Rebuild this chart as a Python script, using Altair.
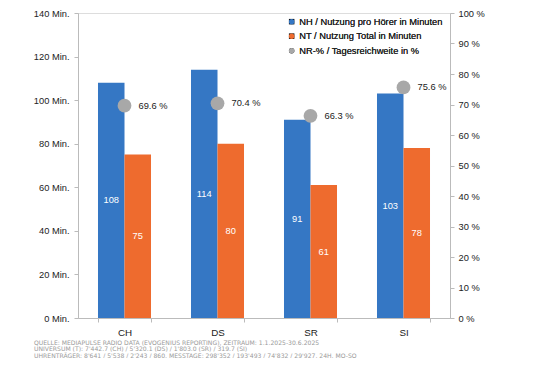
import altair as alt
import pandas as pd

categories = ["CH", "DS", "SR", "SI"]
nh_values = [108, 114, 91, 103]
nt_values = [75, 80, 61, 78]
nr_values = [69.6, 70.4, 66.3, 75.6]
series_names = ["NH / Nutzung pro Hörer in Minuten", "NT / Nutzung Total in Minuten", "NR-% / Tagesreichweite in %"]
series_colors = ["#3577C4", "#EE6B2E", "#A8A8A8"]
series_shapes = ["square", "square", "circle"]
left_ticks = [0, 20, 40, 60, 80, 100, 120, 140]
right_ticks = [0, 10, 20, 30, 40, 50, 60, 70, 80, 90, 100]
footer_lines = [
    "QUELLE: MEDIAPULSE RADIO DATA (EVOGENIUS REPORTING), ZEITRAUM: 1.1.2025-30.6.2025",
    "UNIVERSUM (T): 7'442.7 (CH) / 5'320.1 (DS) / 1'803.0 (SR) / 319.7 (SI)",
    "UHRENTRÄGER: 8'641 / 5'538 / 2'243 / 860, MESSTAGE: 298'352 / 193'493 / 74'832 / 29'927, 24H, MO-SO",
]

FONT = "Liberation Sans"
FS = 9.3
TXT = "#222222"

bars_df = pd.DataFrame(
    [{"cat": c, "series": series_names[0], "value": v} for c, v in zip(categories, nh_values)]
    + [{"cat": c, "series": series_names[1], "value": v} for c, v in zip(categories, nt_values)]
)
pts_df = pd.DataFrame({"cat": categories, "pct": nr_values})
legend_df = pd.DataFrame({"series": series_names})

color_scale = alt.Scale(domain=series_names, range=series_colors)

x_enc = alt.X(
    "cat:N",
    sort=categories,
    scale=alt.Scale(paddingInner=0.43, paddingOuter=0.215),
    axis=alt.Axis(
        title=None, labelAngle=0, labelFont=FONT, labelFontSize=9.8, labelColor=TXT,
        labelPadding=5, tickBand="extent", tickSize=4, tickColor="#bbb", domainColor="#bbb",
    ),
)

def y_left(field):
    return alt.Y(
        field,
        scale=alt.Scale(domain=[0, 140]),
        axis=alt.Axis(
            title=None, values=left_ticks, labelExpr="datum.value + ' Min.'", grid=False,
            labelFont=FONT, labelFontSize=FS, labelColor=TXT, tickSize=4, tickColor="#bbb",
            domainColor="#bbb", labelPadding=5, labelOverlap=False,
        ),
    )

def y_right(field):
    return alt.Y(
        field,
        scale=alt.Scale(domain=[0, 100]),
        axis=alt.Axis(
            title=None, orient="right", values=right_ticks, labelExpr="datum.value + ' %'",
            grid=False, labelFont=FONT, labelFontSize=FS, labelColor=TXT, tickSize=4,
            tickColor="#bbb", domainColor="#bbb", labelPadding=4, labelOverlap=False,
        ),
    )

bars = alt.Chart(bars_df).mark_bar().encode(
    x=x_enc,
    xOffset=alt.XOffset("series:N", sort=series_names[:2]),
    y=y_left("value:Q"),
    color=alt.Color("series:N", scale=color_scale, legend=None),
)

bar_text = alt.Chart(bars_df).transform_calculate(mid="datum.value / 2").mark_text(
    color="white", font=FONT, fontSize=FS
).encode(
    x=alt.X("cat:N", sort=categories),
    xOffset=alt.XOffset("series:N", sort=series_names[:2]),
    y=y_left("mid:Q"),
    text=alt.Text("value:Q"),
)

points = alt.Chart(pts_df).mark_point(filled=True, size=190, opacity=1, color=series_colors[2]).encode(
    x=alt.X("cat:N", sort=categories),
    y=y_right("pct:Q"),
)

pt_text = alt.Chart(pts_df).transform_calculate(
    lbl="format(datum.pct, '.1f') + ' %'"
).mark_text(
    align="left", dx=14, font=FONT, fontSize=FS, color=TXT
).encode(
    x=alt.X("cat:N", sort=categories),
    y=y_right("pct:Q"),
    text="lbl:N",
)

legend_props = dict(
    title=None, orient="none", legendX=209, legendY=4, labelFont=FONT, labelFontSize=FS,
    labelColor=TXT, symbolSize=30, rowPadding=4.5, labelOffset=3, symbolOpacity=1,
    symbolStrokeWidth=0, labelLimit=300,
)

legend_layer = alt.Chart(legend_df).mark_point(filled=True, opacity=0).encode(
    color=alt.Color("series:N", scale=color_scale, legend=alt.Legend(**legend_props)),
    shape=alt.Shape("series:N", scale=alt.Scale(domain=series_names, range=series_shapes),
                    legend=alt.Legend(**legend_props)),
)

footer = alt.layer(*[
    alt.Chart(pd.DataFrame({"t": [line]})).mark_text(
        align="left", baseline="middle", font="DejaVu Sans", fontSize=6.1, color="#9a9a9a"
    ).encode(x=alt.value(-44), y=alt.value(329.5 + i * 6.6), text="t:N")
    for i, line in enumerate(footer_lines)
])

chart = alt.layer(
    alt.layer(bars, bar_text),
    alt.layer(points, pt_text),
    legend_layer,
    footer,
).resolve_scale(y="independent", color="independent").properties(
    width=372, height=305,
    autosize=alt.AutoSizeParams(type="none"),
    padding={"left": 70, "top": 5, "right": 82, "bottom": 40},
).configure_view(stroke=None).configure(background="white")

chart.save("out.html", embed_options={"renderer": "svg", "actions": False})
